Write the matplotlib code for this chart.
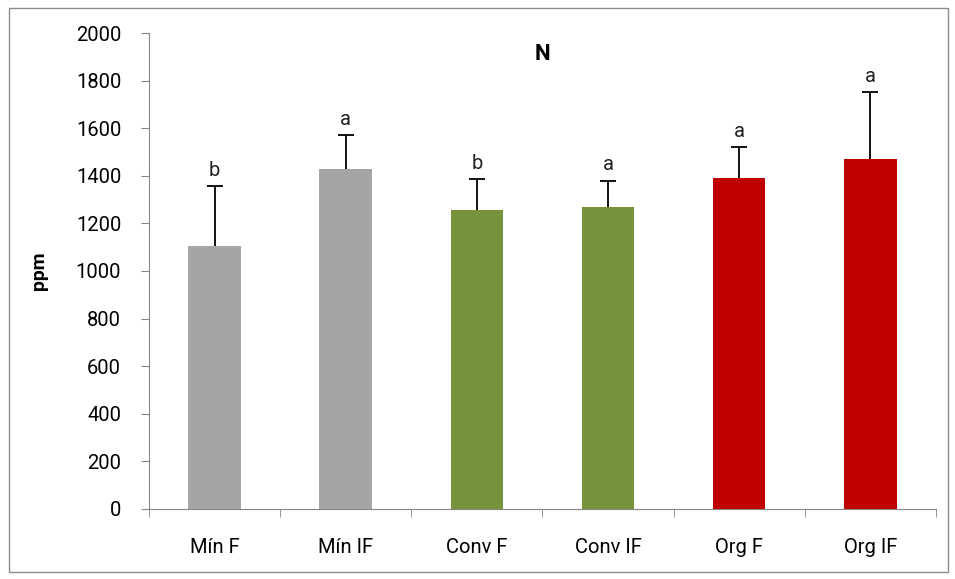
import matplotlib.pyplot as plt
import numpy as np
from matplotlib.patches import Rectangle

tratamientos = ['Mín F', 'Mín IF', 'Conv F', 'Conv IF', 'Org F', 'Org IF']
medias = [1105, 1430, 1255, 1268, 1390, 1470]
errores = [250, 140, 130, 112, 130, 280]
letras = ['b', 'a', 'b', 'a', 'a', 'a']
colores = ['#A5A5A5', '#A5A5A5', '#77933C', '#77933C', '#C00000', '#C00000']

plt.rcParams['font.family'] = ['Roboto', 'DejaVu Sans']

fig = plt.figure(figsize=(9.55, 5.79), dpi=100)
ax = fig.add_axes([0.156, 0.121, 0.824, 0.822])

x = np.arange(len(tratamientos))
tope = np.array(medias) + np.array(errores)
ax.bar(x, medias, width=0.4, color=colores, zorder=2)
# barras de error solo hacia arriba, con tope
ax.vlines(x, medias, tope, color='black', linewidth=1.3, zorder=3)
ax.plot(x, tope, linestyle='none', marker='_', markersize=11,
        markeredgewidth=1.3, color='black', zorder=3)
for i in range(len(x)):
    ax.text(x[i], tope[i] + 28, letras[i], ha='center', va='bottom',
            fontsize=14.5, color='#222222')

ax.set_xlim(-0.5, len(x) - 0.5)
ax.set_ylim(0, 2000)
ax.set_yticks(range(0, 2001, 200))
ax.set_xticks(x)
ax.set_xticklabels(tratamientos, fontsize=14.5)
ax.set_xticks(np.arange(-0.5, len(x), 1), minor=True)
ax.tick_params(axis='x', which='major', length=0, pad=21)
ax.tick_params(axis='x', which='minor', length=6, color='#868686', direction='out')
ax.tick_params(axis='y', length=6, color='#868686', labelsize=14.5, pad=14)

for s in ['top', 'right']:
    ax.spines[s].set_visible(False)
for s in ['left', 'bottom']:
    ax.spines[s].set_color('#868686')

ax.set_ylabel('ppm', fontsize=14, fontweight='bold', labelpad=20)
ax.text(0.5, 0.98, 'N', transform=ax.transAxes, ha='center', va='top',
        fontsize=16, fontweight='bold')

# borde del grafico
fig.patches.append(Rectangle((0.009, 0.012), 0.984, 0.974, transform=fig.transFigure,
                             fill=False, edgecolor='#8c8c8c', linewidth=1))

fig.savefig('out.png', dpi=100)
